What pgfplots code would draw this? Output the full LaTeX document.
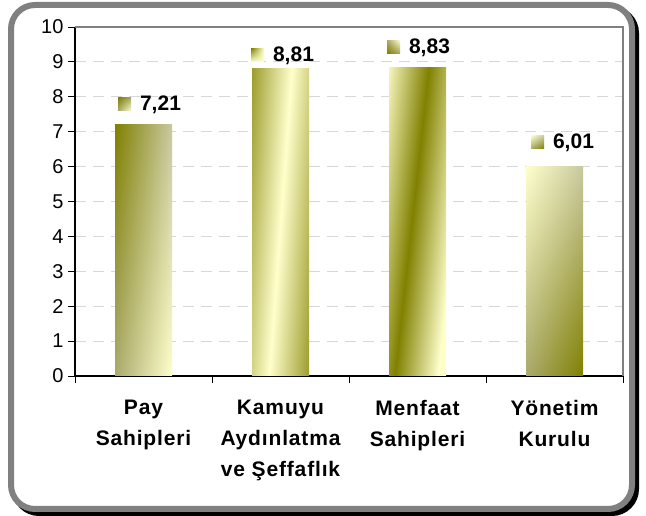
\documentclass[border=0pt]{standalone}
\usepackage{fontspec}
\setmainfont{Liberation Sans}
\newfontfamily\lblfont[LetterSpace=4]{Liberation Sans}
\usepackage{pgfplots}
\usetikzlibrary{shadings}
\pgfplotsset{compat=1.18}
\definecolor{oliv}{RGB}{128,128,0}
\definecolor{lite}{RGB}{255,255,204}
\definecolor{midol}{RGB}{170,170,110}
\definecolor{grayol}{RGB}{200,200,160}
\definecolor{gridc}{RGB}{215,215,215}
\definecolor{frame}{RGB}{128,128,128}
% light stripe, dark sides (bar 2)
\pgfdeclarefunctionalshading{lightstripe}{\pgfpoint{0bp}{0bp}}{\pgfpoint{100bp}{100bp}}{}{
  0.4 mul 30 add sub abs 45 div dup 1 gt {pop 1} if
  dup -0.498 mul 1 add exch dup -0.498 mul 1 add exch -0.8 mul 0.8 add
}
% dark stripe, light sides (bar 3)
\pgfdeclarefunctionalshading{darkstripe}{\pgfpoint{0bp}{0bp}}{\pgfpoint{100bp}{100bp}}{}{
  0.6 mul 15 add sub abs 38 div dup 1 gt {pop 1} if
  dup 0.498 mul 0.502 add exch dup 0.498 mul 0.502 add exch 0.8 mul
}
\newcommand{\sq}[1]{\tikz[baseline=0pt]\shade[#1] (0pt,0pt) rectangle (13pt,13pt);}
\begin{document}
\begin{tikzpicture}[x=1pt,y=1pt]
\useasboundingbox (0,0) rectangle (646,516);
\draw[black, line width=6pt, rounded corners=24pt] (15,3) rectangle (636,507);
\draw[fill=white, draw=frame, line width=6pt, rounded corners=24pt] (11,7) rectangle (632,511);
\begin{axis}[
  at={(75pt,140pt)}, anchor=south west,
  scale only axis, width=548pt, height=349pt,
  xmin=-0.5, xmax=3.5, ymin=0, ymax=10,
  axis lines*=left,
  axis line style={black, line width=1.2pt},
  tick align=outside,
  major tick length=7pt,
  tick style={black, line width=0.8pt},
  ytick={0,1,...,10},
  yticklabel={\pgfmathprintnumber{\tick}},
  xtick={-0.5,0.5,1.5,2.5,3.5},
  x tick label as interval,
  xticklabels={{Pay\\Sahipleri},{Kamuyu\\Aydınlatma\\ve Şeffaflık},{Menfaat\\Sahipleri},{Yönetim\\Kurulu}},
  xticklabel style={align=center, font=\lblfont\fontsize{21}{31}\selectfont\bfseries, yshift=-14pt},
  yticklabel style={font=\fontsize{20}{20}\selectfont, xshift=-1pt},
  /pgf/number format/assume math mode=true,
  ymajorgrids,
  grid style={gridc, line width=1pt, dash pattern=on 11pt off 7pt},
  bar width=57pt,
  every node near coord/.append style={font=\fontsize{21}{24}\selectfont\bfseries, anchor=south},
  clip=false,
]
\addplot[ybar, bar shift=0pt, draw=none, shade, upper left=oliv, upper right=grayol, lower left=midol, lower right=lite,
  nodes near coords={\sq{upper left=oliv, upper right=midol, lower left=midol, lower right=lite}\hspace{9pt}\pgfmathprintnumber[fixed,fixed zerofill,precision=2,use comma]{\pgfplotspointmeta}},
  every node near coord/.append style={xshift=6pt, yshift=7pt}]
  coordinates {(0,7.21)};
\addplot[ybar, bar shift=0pt, draw=none, shade, shading=lightstripe,
  nodes near coords={\sq{upper left=oliv, upper right=lite, lower left=lite, lower right=lite}\hspace{9pt}\pgfmathprintnumber[fixed,fixed zerofill,precision=2,use comma]{\pgfplotspointmeta}},
  every node near coord/.append style={xshift=2pt, yshift=0pt}]
  coordinates {(1,8.81)};
\addplot[ybar, bar shift=0pt, draw=none, shade, shading=darkstripe,
  nodes near coords={\sq{upper left=midol, upper right=lite, lower left=oliv, lower right=midol}\hspace{9pt}\pgfmathprintnumber[fixed,fixed zerofill,precision=2,use comma]{\pgfplotspointmeta}},
  every node near coord/.append style={xshift=1pt, yshift=8pt}]
  coordinates {(2,8.83)};
\addplot[ybar, bar shift=0pt, draw=none, shade, upper left=lite, upper right=grayol, lower left=midol, lower right=oliv,
  nodes near coords={\sq{upper left=lite, upper right=grayol, lower left=midol, lower right=oliv}\hspace{9pt}\pgfmathprintnumber[fixed,fixed zerofill,precision=2,use comma]{\pgfplotspointmeta}},
  every node near coord/.append style={xshift=8pt, yshift=11pt}]
  coordinates {(3,6.01)};
\draw[frame, line width=2pt] (rel axis cs:0,1) -- (rel axis cs:1,1) -- (rel axis cs:1,0);
\end{axis}
\end{tikzpicture}
\end{document}
